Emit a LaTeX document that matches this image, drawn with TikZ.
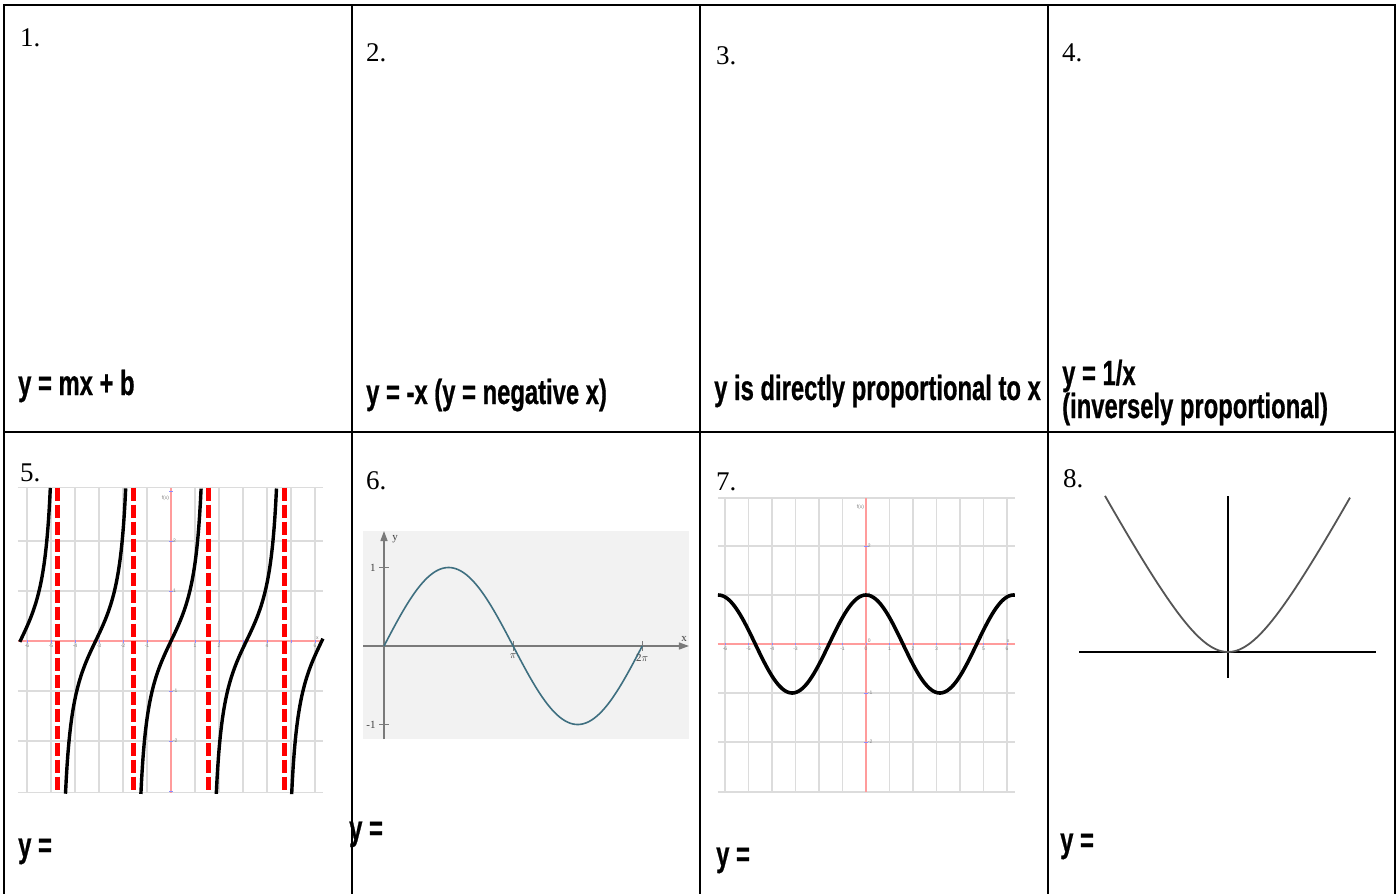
\documentclass[tikz,border=0pt]{standalone}
\usepackage{fontspec}
\setmainfont{Liberation Serif}
\newfontfamily\labfont[FakeStretch=0.68,FakeBold=0.6]{Liberation Sans Bold}
\newfontfamily\tinyfont{Liberation Sans}
\usetikzlibrary{arrows.meta}
\definecolor{gridgray}{HTML}{DCDCDC}
\definecolor{axpink}{HTML}{FF9C9C}
\definecolor{sinblue}{HTML}{3E6F80}
\definecolor{bgray}{HTML}{F2F2F2}
\definecolor{axgray}{HTML}{7A7A7A}
\definecolor{tickblue}{HTML}{8C8CFF}
\definecolor{parab}{HTML}{555555}
\begin{document}
\begin{tikzpicture}[x=1pt,y=-1pt,
  tbl/.style={line width=2.4pt,black},
  num/.style={anchor=base west,inner sep=0pt,font=\fontsize{27}{27}\selectfont},
  lab/.style={anchor=base west,inner sep=0pt,font=\labfont\fontsize{35}{35}\selectfont},
  gridl/.style={gridgray,line width=1.3pt},
  axp/.style={axpink,line width=2pt},
  tk/.style={inner sep=0.6pt,font=\tinyfont\fontsize{5}{5}\selectfont,text=gray},
  tcurve/.style={black,line width=3.4pt},
  asym/.style={red,line width=5pt,dash pattern=on 13pt off 4pt},
  sinlab/.style={inner sep=0pt,font=\fontsize{11}{11}\selectfont,text=black!75}]
\useasboundingbox (0,0) rectangle (1398,894);
\fill[white] (0,0) rectangle (1398,894);

% ---------- table ----------
\draw[tbl] (4,900) -- (4,5) -- (1395,5) -- (1395,900);
\draw[tbl] (352,5) -- (352,900);
\draw[tbl] (700,5) -- (700,900);
\draw[tbl] (1048,5) -- (1048,900);
\draw[tbl] (4,432) -- (1395,432);

% ---------- numbers ----------
\node[num] (n1) at (20,46) {1.};
\node[num] (n2) at (366,61) {2.};
\node[num] (n3) at (716,64) {3.};
\node[num] (n4) at (1062,61) {4.};
\node[num] (n5) at (20,481) {5.};
\node[num] (n6) at (366,489) {6.};
\node[num] (n7) at (716,490) {7.};
\node[num] (n8) at (1063,487) {8.};

% ---------- labels ----------
\node[lab] (l1) at (18,395) {y = mx + b};
\node[lab] (l2) at (366,404) {y = -x (y = negative x)};
\node[lab] (l3) at (714,400) {y is directly proportional to x};
\node[lab] (l4a) at (1062,385) {y = 1/x};
\node[lab] (l4b) at (1062,418) {(inversely proportional)};
\node[lab] (l5) at (18,857) {y =};
\node[lab] (l6) at (349,840) {y =};
\node[lab] (l7) at (716,866) {y =};
\node[lab] (l8) at (1060,852) {y =};

% ---------- graph 5: tangent ----------
\begin{scope}[shift={(171,641)},x=24pt,y=50pt]
  \foreach \i in {-6,...,6} \draw[gridl] (\i,-3.03) -- (\i,3.07);
  \foreach \j in {-3.03,-2,-1,1,2,3.07} \draw[gridl] (-6.38,\j) -- (6.33,\j);
  \draw[axp] (-6.38,0) -- (6.33,0);
  \draw[axp] (0,-3.03) -- (0,3.07);
  \foreach \i in {-6,...,6} \draw[tickblue,line width=0.8pt] (\i,-0.03) -- (\i,0.03);
  \foreach \j in {-3,-2,-1,1,2,3} \draw[tickblue,line width=0.8pt] (-0.08,\j) -- (0.08,\j);
  \foreach \i in {-6,-5,-4,-3,-2,-1,0,1,2,4,6} \node[tk,anchor=north] (t5x\i) at (\i,-0.04) {\i};
  \foreach \j in {-2,-1,1,2} \node[tk,anchor=west] (t5y\j) at (0.05,\j) {\j};
  \node[tk,anchor=east] (t5f) at (-0.05,2.85) {f(x)};
  \node[tk,anchor=south] (t5xl) at (6.1,0.02) {x};
  \draw[tcurve] plot[domain=-6.3:-5.028,samples=50] (\x,{tan(\x r)});
  \draw[tcurve] plot[domain=-4.396:-1.887,samples=80] (\x,{tan(\x r)});
  \draw[tcurve] plot[domain=-1.2548:1.2548,samples=80] (\x,{tan(\x r)});
  \draw[tcurve] plot[domain=1.887:4.396,samples=80] (\x,{tan(\x r)});
  \draw[tcurve] plot[domain=5.028:6.33,samples=50] (\x,{tan(\x r)});
  \foreach \a in {-4.7124,-1.5708,1.5708,4.7124} \draw[asym] (\a,3.07) -- (\a,-3.03);
\end{scope}

% ---------- graph 6: sine ----------
\fill[bgray] (363,531) rectangle (689,739);
\begin{scope}[shift={(384,646)},x=41.1pt,y=78.5pt]
  \draw[axgray,line width=1.3pt,-{Triangle[length=10pt,width=7pt]}] (-0.511,0) -- (7.42,0);
  \draw[axgray,line width=1.3pt,-{Triangle[length=10pt,width=7pt]}] (0,-1.185) -- (0,1.465);
  \draw[axgray,line width=1pt] (-0.12,1) -- (0.12,1);
  \draw[axgray,line width=1pt] (-0.12,-1) -- (0.12,-1);
  \draw[axgray,line width=1pt] (3.1416,-0.06) -- (3.1416,0.06);
  \draw[axgray,line width=1pt] (6.2832,-0.06) -- (6.2832,0.06);
  \draw[sinblue,line width=1.6pt] plot[domain=0:6.2832,samples=120] (\x,{sin(\x r)});
  \node[sinlab,anchor=west] (s6y) at (0.2,1.36) {y};
  \node[sinlab,anchor=south] (s6x) at (7.3,0.05) {x};
  \node[sinlab,anchor=east] (s6a) at (-0.2,1) {1};
  \node[sinlab,anchor=east] (s6b) at (-0.2,-1) {-1};
  \node[sinlab,anchor=north] (s6c) at (3.1416,-0.1) {$\pi$};
  \node[sinlab,anchor=north] (s6d) at (6.2832,-0.1) {2$\pi$};
\end{scope}

% ---------- graph 7: cosine ----------
\begin{scope}[shift={(866,644)},x=23.5pt,y=49pt]
  \foreach \i in {-6,...,6} \draw[gridl] (\i,-3.02) -- (\i,2.98);
  \foreach \j in {-3.02,-2,-1,1,2,2.98} \draw[gridl] (-6.3,\j) -- (6.34,\j);
  \draw[axp] (-6.3,0) -- (6.34,0);
  \draw[axp] (0,-3.02) -- (0,2.98);
  \foreach \i in {-6,...,6} \draw[tickblue,line width=0.8pt] (\i,-0.03) -- (\i,0.03);
  \foreach \j in {-2,-1,1,2} \draw[tickblue,line width=0.8pt] (-0.08,\j) -- (0.08,\j);
  \foreach \i in {-6,-5,-4,-3,-2,-1,0,1,2,3,4,5,6} \node[tk,anchor=north] (t7x\i) at (\i,-0.04) {\i};
  \foreach \j in {-2,-1,1,2} \node[tk,anchor=west] (t7y\j) at (0.05,\j) {\j};
  \node[tk,anchor=south west] (t7z) at (0.05,0.02) {0};
  \node[tk,anchor=east] (t7f) at (-0.05,2.8) {f(x)};
  \node[tk,anchor=south] (t7xl) at (6.05,0.02) {x};
  \draw[tcurve,line width=3.6pt] plot[domain=-6.3:6.34,samples=160] (\x,{cos(\x r)});
\end{scope}

% ---------- graph 8: parabola ----------
\draw[black,line width=1.5pt] (1228,496) -- (1228,678);
\draw[black,line width=1.5pt] (1079,652) -- (1376,652);
\draw[parab,line width=1.8pt] plot[domain=-123:122,samples=90] ({1228+\x},{652-94.3*(sqrt(1+(\x/50)^2)-1)});
\end{tikzpicture}
\end{document}
